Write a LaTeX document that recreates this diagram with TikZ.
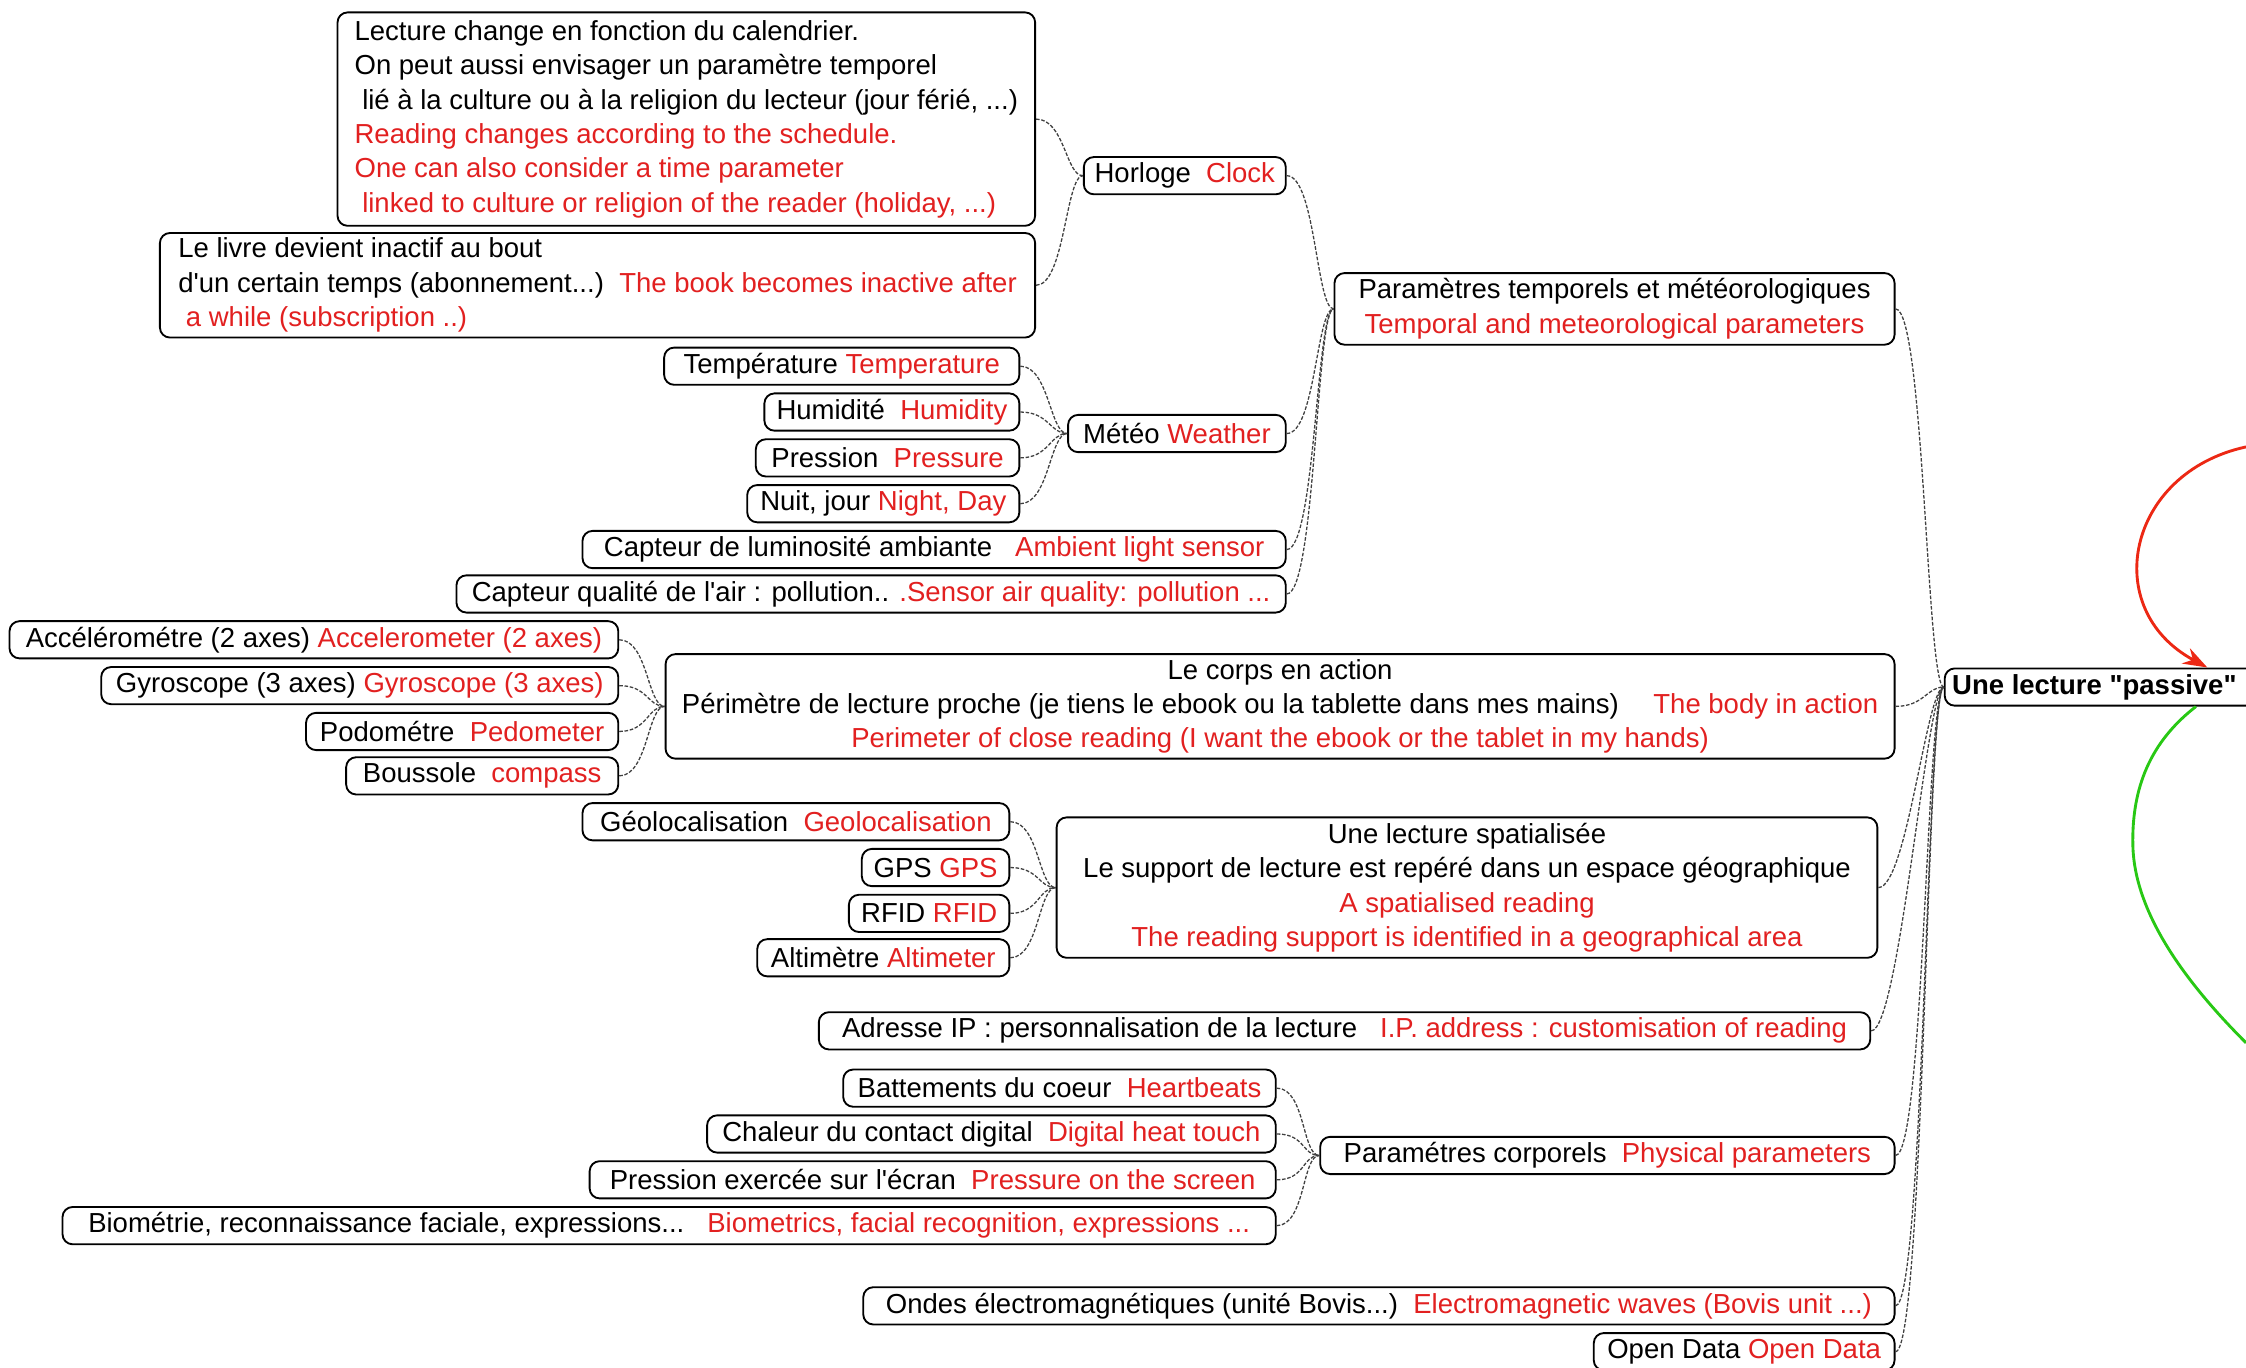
\documentclass[tikz,border=0pt]{standalone}
\usepackage{fontspec}
\setmainfont{Liberation Sans}
\usetikzlibrary{arrows.meta,calc}
\definecolor{tred}{RGB}{226,32,32}
\definecolor{tgreen}{RGB}{40,200,20}
\definecolor{tarrow}{RGB}{236,40,20}
\newcommand{\en}[1]{\textcolor{tred}{#1}}
\newcommand{\ap}{\textquotesingle}
\begin{document}
\begin{tikzpicture}[x=1pt,y=1pt,
  box/.style={draw=black, line width=1.3pt, rounded corners=7pt, inner sep=0pt,
    anchor=north west, fill=white, font=\fontsize{19.2}{24}\selectfont},
  link/.style={draw=black!75, line width=0.9pt, dash pattern=on 2.5pt off 1.2pt,
    out=0, in=180, out distance=20pt, in distance=12pt}]
\useasboundingbox (0,0) rectangle (1568,-955);
\clip (0,0) rectangle (1568,-955);

% ---- time and weather branch
\node[box, align=left, minimum width=487pt, minimum height=149pt] (note) at (235,-8)
  {Lecture change en fonction du calendrier.\\
   On peut aussi envisager un paramètre temporel\\
   \ lié à la culture ou à la religion du lecteur (jour férié, ...)\\
   \en{Reading changes according to the schedule.}\\
   \en{One can also consider a time parameter}\\
   \en{\ linked to culture or religion of the reader (holiday, ...)}};
\node[box, align=left, minimum width=611pt, minimum height=73pt] (inact) at (111,-162)
  {Le livre devient inactif au bout\\
   d\ap un certain temps (abonnement...)\ \ \en{The book becomes inactive after}\\
   \en{\ a while (subscription ..)}};
\node[box, minimum width=141pt, minimum height=26pt] (clock) at (756,-109)
  {Horloge\ \ \en{Clock}};
\node[box, align=center, minimum width=391pt, minimum height=50pt] (tempo) at (931,-190)
  {Paramètres temporels et météorologiques\\ \en{Temporal and meteorological parameters}};
\node[box, minimum width=248pt, minimum height=26pt] (temp) at (463,-242)
  {Température \en{Temperature}};
\node[box, minimum width=178pt, minimum height=26pt] (humid) at (533,-274)
  {Humidité\ \ \en{Humidity}};
\node[box, minimum width=184pt, minimum height=26pt] (press) at (527,-306)
  {Pression\ \ \en{Pressure}};
\node[box, minimum width=190pt, minimum height=26pt] (nuit) at (521,-338)
  {Nuit, jour \en{Night, Day}};
\node[box, minimum width=152pt, minimum height=26pt] (meteo) at (745,-289)
  {Météo \en{Weather}};
\node[box, minimum width=491pt, minimum height=26pt] (lumin) at (406,-370)
  {Capteur de luminosité ambiante\ \ \ \en{Ambient light sensor}};
\node[box, minimum width=579pt, minimum height=26pt] (air) at (318,-401)
  {Capteur qualité de l\ap air : pollution.. \en{.Sensor air quality: pollution ...}};

% ---- body in action branch
\node[box, minimum width=425pt, minimum height=26pt] (accel) at (6,-433)
  {Acc\'el\'erom\'etre (2 axes) \en{Accelerometer (2 axes)}};
\node[box, minimum width=361pt, minimum height=26pt] (gyro) at (70,-465)
  {Gyroscope (3 axes) \en{Gyroscope (3 axes)}};
\node[box, minimum width=218pt, minimum height=26pt] (podo) at (213,-497)
  {Podom\'etre\ \ \en{Pedometer}};
\node[box, minimum width=190pt, minimum height=26pt] (bouss) at (241,-528)
  {Boussole\ \ \en{compass}};
\node[box, align=center, minimum width=858pt, minimum height=73pt] (corps) at (464,-456)
  {Le corps en action\\
   Périmètre de lecture proche (je tiens le ebook ou la tablette dans mes mains)\hspace{24pt}\en{The body in action}\\
   \en{Perimeter of close reading (I want the ebook or the tablet in my hands)}};

% ---- spatialised reading branch
\node[box, minimum width=298pt, minimum height=26pt] (geo) at (406,-560)
  {Géolocalisation\ \ \en{Geolocalisation}};
\node[box, minimum width=103pt, minimum height=26pt] (gps) at (601,-592)
  {GPS \en{GPS}};
\node[box, minimum width=112pt, minimum height=26pt] (rfid) at (592,-624)
  {RFID \en{RFID}};
\node[box, minimum width=176pt, minimum height=26pt] (alti) at (528,-655)
  {Altimètre \en{Altimeter}};
\node[box, align=center, minimum width=573pt, minimum height=98pt] (spat) at (737,-570)
  {Une lecture spatialisée\\
   Le support de lecture est repéré dans un espace géographique\\
   \en{A spatialised reading}\\
   \en{The reading support is identified in a geographical area}};

\node[box, minimum width=734pt, minimum height=26pt] (ip) at (571,-706)
  {Adresse IP : personnalisation de la lecture\ \ \ \en{I.P. address : customisation of reading}};

% ---- physical parameters branch
\node[box, minimum width=302pt, minimum height=26pt] (batt) at (588,-746)
  {Battements du coeur\ \ \en{Heartbeats}};
\node[box, minimum width=397pt, minimum height=26pt] (chal) at (493,-778)
  {Chaleur du contact digital\ \ \en{Digital heat touch}};
\node[box, minimum width=479pt, minimum height=26pt] (presse) at (411,-810)
  {Pression exercée sur l\ap écran\ \ \en{Pressure on the screen}};
\node[box, minimum width=847pt, minimum height=26pt] (bio) at (43,-842)
  {Biométrie, reconnaissance faciale, expressions...\ \ \ \en{Biometrics, facial recognition, expressions ...}};
\node[box, minimum width=401pt, minimum height=26pt] (corpo) at (921,-793)
  {Param\'etres corporels\ \ \en{Physical parameters}};

\node[box, minimum width=720pt, minimum height=26pt] (ondes) at (602,-898)
  {Ondes électromagnétiques (unité Bovis...)\ \ \en{Electromagnetic waves (Bovis unit ...)}};
\node[box, minimum width=210pt, minimum height=26pt] (open) at (1112,-930)
  {Open Data \en{Open Data}};

% ---- central topic
\node[box, minimum width=221pt, minimum height=26pt] (main) at (1357,-466)
  {\hspace{-12pt}\textbf{Une lecture \textquotedbl passive\textquotedbl}};

% ---- connectors
\draw[link] (note.east) to (clock.west);
\draw[link] (inact.east) to (clock.west);
\foreach \c in {temp,humid,press,nuit} \draw[link] (\c.east) to (meteo.west);
\foreach \c in {clock,meteo,lumin,air} \draw[link] (\c.east) to (tempo.west);
\foreach \c in {accel,gyro,podo,bouss} \draw[link] (\c.east) to (corps.west);
\foreach \c in {geo,gps,rfid,alti} \draw[link] (\c.east) to (spat.west);
\foreach \c in {batt,chal,presse,bio} \draw[link] (\c.east) to (corpo.west);
\foreach \c in {tempo,corps,spat,ip,corpo,ondes,open} \draw[link] (\c.east) to (main.west);

% ---- incoming and outgoing relations of the central topic
\coordinate (redfrom) at (1568,-312);
\coordinate (redtip) at ($(main.north west)+(184,0)$);
\coordinate (greenfrom) at ($(main.south west)+(176,0)$);
\coordinate (greento) at (1568,-728);
\draw[tarrow, line width=2pt, -{Stealth[length=17pt,width=12pt]}]
  (redfrom) .. controls (1485,-330) and (1465,-425) .. (redtip);
\draw[tgreen, line width=2pt]
  (greenfrom) .. controls (1505,-515) and (1488,-545) .. (1489,-590)
  .. controls (1490,-640) and (1530,-690) .. (greento);
\end{tikzpicture}
\end{document}
